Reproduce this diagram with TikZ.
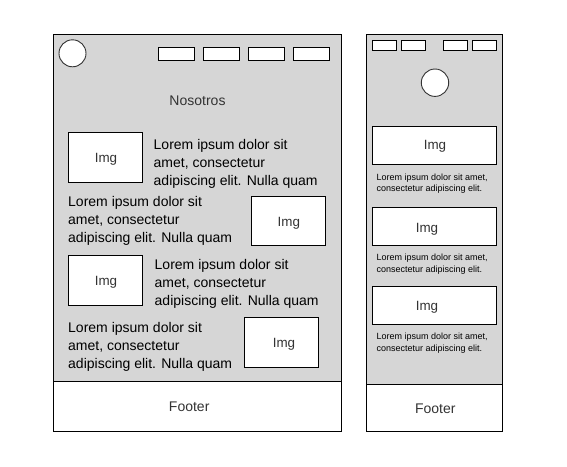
\documentclass[tikz,border=0pt]{standalone}
\usepackage{fontspec}
\setmainfont{Liberation Sans}
\definecolor{panelgray}{RGB}{214,214,214}
\definecolor{labelgray}{RGB}{51,51,51}
\begin{document}
\begin{tikzpicture}[x=1pt,y=-1pt,
  panel/.style={draw=black, line width=1pt, fill=panelgray, inner sep=0pt},
  whitebox/.style={draw=black, line width=1pt, fill=white, inner sep=0pt},
  navbox/.style={whitebox, line width=0.9pt},
  logo/.style={circle, draw=labelgray, line width=0.9pt, fill=white, inner sep=0pt},
  lbl/.style={font=\fontsize{14}{16}\selectfont, text=labelgray, inner sep=0pt, text height=10pt, text depth=0pt},
  imglbl/.style={lbl, font=\fontsize{13.4}{16}\selectfont, text height=9.6pt},
  lorem/.style={font=\fontsize{14}{18}\selectfont, text=black, inner sep=0pt, anchor=base west},
  small/.style={font=\fontsize{9}{11}\selectfont, text=black, inner sep=0pt, anchor=base west}]
\useasboundingbox (0,0) rectangle (567,466);
\fill[white] (0,0) rectangle (567,466);

% ---------- left (desktop) ----------
\node[panel, minimum width=288pt, minimum height=347pt] (lbody) at (197,207.5) {};
\node[whitebox, minimum width=288pt, minimum height=50pt] (lfoot) at (197,406) {};
\node[lbl] (lfootlbl) at (189.2,406) {Footer};
\node[logo, minimum size=27pt] (llogo) at (72.5,53.3) {};
\foreach \i/\cx in {1/176.2,2/221.2,3/266.2,4/311.2}
  \node[navbox, minimum width=35.5pt, minimum height=13pt] (lnav\i) at (\cx,54.2) {};
\node[lbl] (ltitle) at (197.5,100.8) {Nosotros};

\node[whitebox, minimum width=74pt, minimum height=49.7pt] (limg1) at (105.3,157.2) {};
\node[whitebox, minimum width=74.4pt, minimum height=49.3pt] (limg2) at (288.5,221.3) {};
\node[whitebox, minimum width=74pt, minimum height=49.6pt] (limg3) at (105.3,280.5) {};
\node[whitebox, minimum width=74pt, minimum height=50pt] (limg4) at (281.3,342.3) {};
\node[imglbl] (limg1l) at ([xshift=0.7pt]limg1.center) {Img};
\node[imglbl] (limg2l) at ([xshift=0.3pt,yshift=-0.8pt]limg2.center) {Img};
\node[imglbl] (limg3l) at ([xshift=0.7pt]limg3.center) {Img};
\node[imglbl] (limg4l) at ([xshift=2.7pt]limg4.center) {Img};

\node[lorem] (lt1a) at (153.5,149) {Lorem ipsum dolor sit};
\node[lorem] (lt1b) at (153.5,167) {amet, consectetur};
\node[lorem] (lt1c) at (153.5,185) {adipiscing elit. Nulla quam};

\node[lorem] (lt2a) at (68,206.5) {Lorem ipsum dolor sit};
\node[lorem] (lt2b) at (68,224.5) {amet, consectetur};
\node[lorem] (lt2c) at (68,242.5) {adipiscing elit. Nulla quam};

\node[lorem] (lt3a) at (154.5,269.3) {Lorem ipsum dolor sit};
\node[lorem] (lt3b) at (154.5,287.3) {amet, consectetur};
\node[lorem] (lt3c) at (154.5,305.3) {adipiscing elit. Nulla quam};

\node[lorem] (lt4a) at (68,332.7) {Lorem ipsum dolor sit};
\node[lorem] (lt4b) at (68,350.7) {amet, consectetur};
\node[lorem] (lt4c) at (68,368.7) {adipiscing elit. Nulla quam};

% ---------- right (mobile) ----------
\node[panel, minimum width=136pt, minimum height=350pt] (rbody) at (434.7,209) {};
\node[whitebox, minimum width=136pt, minimum height=47pt] (rfoot) at (434.7,407.5) {};
\node[lbl] (rfootlbl) at (435.3,408) {Footer};
\foreach \i/\cx in {1/384.2,2/413.4,3/455.3,4/484.5}
  \node[navbox, minimum width=24pt, minimum height=10.7pt] (rnav\i) at (\cx,45.3) {};
\node[logo, minimum size=27.4pt] (rlogo) at (435,82.7) {};

\node[whitebox, minimum width=124.4pt, minimum height=38pt] (rimg1) at (434.5,145) {};
\node[whitebox, minimum width=124.4pt, minimum height=37.7pt] (rimg2) at (434.5,226.2) {};
\node[whitebox, minimum width=124.4pt, minimum height=38.3pt] (rimg3) at (434.5,305.2) {};
\node[imglbl] (rimg1l) at ([xshift=0.5pt]rimg1.center) {Img};
\node[imglbl] (rimg2l) at ([xshift=-7.5pt,yshift=-1.6pt]rimg2.center) {Img};
\node[imglbl] (rimg3l) at ([xshift=-7.5pt,yshift=-0.8pt]rimg3.center) {Img};

\node[small] (rt1a) at (376.5,180) {Lorem ipsum dolor sit amet,};
\node[small] (rt1b) at (376.5,191.5) {consectetur adipiscing elit.};
\node[small] (rt2a) at (376.5,260.5) {Lorem ipsum dolor sit amet,};
\node[small] (rt2b) at (376.5,272) {consectetur adipiscing elit.};
\node[small] (rt3a) at (376.5,339.7) {Lorem ipsum dolor sit amet,};
\node[small] (rt3b) at (376.5,351.2) {consectetur adipiscing elit.};
\end{tikzpicture}
\end{document}
